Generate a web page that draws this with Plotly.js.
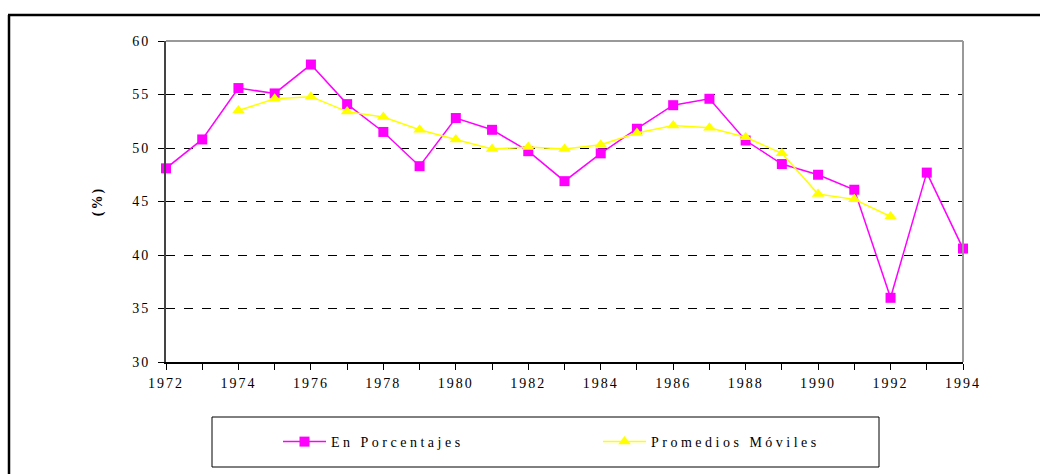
<!DOCTYPE html>
<html>
<head>
<meta charset="utf-8">
<script src="https://cdn.plot.ly/plotly-3.0.1.min.js"></script>
<style>
  html, body { margin: 0; padding: 0; background: #fff; }
  #chart { width: 1040px; height: 474px; }
  #chart svg text { letter-spacing: 2px; }
  #chart svg text.legendtext { letter-spacing: 3.5px; }
</style>
</head>
<body>
<div id="chart"></div>
<script>
const years = [1972,1973,1974,1975,1976,1977,1978,1979,1980,1981,1982,1983,1984,1985,1986,1987,1988,1989,1990,1991,1992,1993,1994];
const porcentajes = [48.1,50.8,55.6,55.1,57.8,54.1,51.5,48.3,52.8,51.7,49.7,46.9,49.5,51.8,54.0,54.6,50.7,48.5,47.5,46.1,36.0,47.7,40.6];
const movYears = [1974,1975,1976,1977,1978,1979,1980,1981,1982,1983,1984,1985,1986,1987,1988,1989,1990,1991,1992];
const promedios = [53.5,54.6,54.8,53.4,52.9,51.7,50.8,49.9,50.1,49.9,50.3,51.4,52.1,51.9,51.0,49.5,45.7,45.2,43.6];
const seriesNames = ['En Porcentajes', 'Promedios M\u00f3viles'];
const yTitle = '(%)';

const font = {family: 'Liberation Serif, Times New Roman, serif', size: 14, color: '#000'};

const traces = [
  {x: years, y: porcentajes, name: seriesNames[0], type: 'scatter', mode: 'lines+markers',
   line: {color: '#FF00FF', width: 1.5}, marker: {symbol: 'square', size: 10, color: '#FF00FF'}, cliponaxis: false},
  {x: movYears, y: promedios, name: seriesNames[1], type: 'scatter', mode: 'lines+markers',
   line: {color: '#FFFF00', width: 1.5}, marker: {symbol: 'triangle-up', size: 11, color: '#FFFF00'}, cliponaxis: false}
];

const W = 1040, H = 474, L = 166, R = 77, T = 41, B = 112;
const pw = W - L - R, ph = H - T - B;
const px = v => (v - L) / pw;
const py = v => (H - B - v) / ph;

const layout = {
  width: W, height: H,
  margin: {l: L, r: R, t: T, b: B},
  paper_bgcolor: '#fff', plot_bgcolor: '#fff',
  font: font,
  showlegend: true,
  legend: {orientation: 'h', x: px(278), y: py(442), yanchor: 'middle', xanchor: 'left', itemwidth: 43,
           entrywidth: 262, entrywidthmode: 'pixels', bgcolor: 'rgba(0,0,0,0)', borderwidth: 0, font: font},
  xaxis: {range: [1972, 1994], dtick: 2, tick0: 1972, ticks: 'outside', ticklen: 6, tickwidth: 1, tickcolor: '#000',
          showline: true, linecolor: '#000', linewidth: 1.5, showgrid: false, zeroline: false,
          minor: {dtick: 1, ticks: 'outside', ticklen: 6, tickcolor: '#000', tickwidth: 1, showgrid: false},
          tickfont: font, ticklabelstandoff: 2, fixedrange: true},
  yaxis: {range: [30, 60], dtick: 5, tick0: 30, ticks: 'outside', ticklen: 6, tickwidth: 1, tickcolor: '#000',
          showline: true, linecolor: '#444', linewidth: 2, showgrid: true, gridcolor: '#000', gridwidth: 1,
          griddash: 'dash', zeroline: false, tickfont: font, ticklabelstandoff: 5,
          title: {text: '<b>' + yTitle + '</b>', font: font, standoff: 30}, fixedrange: true},
  shapes: [
    {type: 'line', xref: 'paper', yref: 'paper', x0: 0, x1: 1, y0: 1, y1: 1, line: {color: '#999', width: 2}},
    {type: 'line', xref: 'paper', yref: 'paper', x0: 1, x1: 1, y0: 0, y1: 1, line: {color: '#999', width: 2}},
    {type: 'rect', xref: 'paper', yref: 'paper', x0: px(212), x1: px(879), y0: py(467), y1: py(417), line: {color: '#000', width: 1}},
    {type: 'line', xref: 'paper', yref: 'paper', x0: px(8), x1: px(1045), y0: py(15), y1: py(15), line: {color: '#000', width: 2.5}},
    {type: 'line', xref: 'paper', yref: 'paper', x0: px(9), x1: px(9), y0: py(15), y1: py(480), line: {color: '#000', width: 2.5}}
  ]
};

Plotly.newPlot('chart', traces, layout, {displayModeBar: false, staticPlot: true});
</script>
</body>
</html>
